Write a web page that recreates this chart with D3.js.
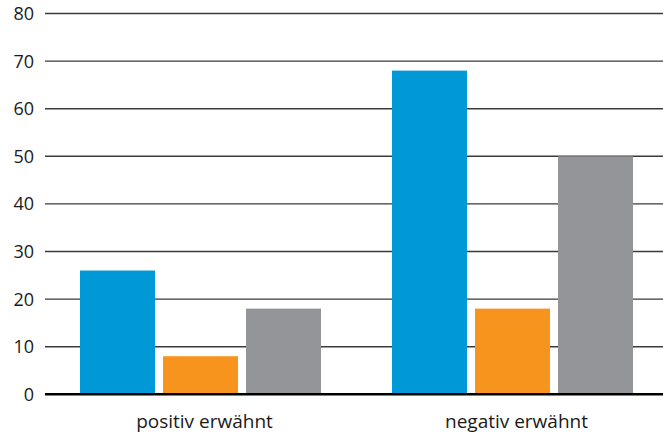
<!DOCTYPE html>
<html>
<head>
<meta charset="utf-8">
<script src="https://cdn.jsdelivr.net/npm/d3@7"></script>
<style>
  html, body { margin: 0; padding: 0; background: #fff; }
  svg { display: block; }
  text { font-family: "Open Sans", sans-serif; fill: #1a1a1a; }
</style>
</head>
<body>
<svg id="chart" width="663" height="436"></svg>
<script>
// Categories and series
const categories = ["positiv erwähnt", "negativ erwähnt"];
const seriesNames = ["A", "B", "C"];
const seriesColors = ["#0098d7", "#f7941d", "#939598"];
const valuesA = [26, 68];
const valuesB = [8, 18];
const valuesC = [18, 50];
const yTicks = [0, 10, 20, 30, 40, 50, 60, 70, 80];

const seriesValues = [valuesA, valuesB, valuesC];

const svg = d3.select("#chart");

const y = d3.scaleLinear().domain([0, 80]).range([394.3, 13.5]);

const x0 = d3.scaleBand()
  .domain(categories)
  .range([44.5, 668.5])
  .paddingInner(0.2276)
  .paddingOuter(0.1138);

const x1 = d3.scaleBand()
  .domain(seriesNames)
  .range([0, x0.bandwidth()])
  .paddingInner(8 / 83)
  .paddingOuter(0);

// Horizontal gridlines
svg.append("g")
  .selectAll("line")
  .data(yTicks.filter(d => d !== 0))
  .join("line")
  .attr("x1", 45)
  .attr("x2", 663)
  .attr("y1", d => y(d))
  .attr("y2", d => y(d))
  .attr("stroke", "#3a3a3a")
  .attr("stroke-width", 1.4);

// Y tick labels
svg.append("g")
  .selectAll("text")
  .data(yTicks)
  .join("text")
  .attr("x", 34)
  .attr("y", d => y(d))
  .attr("dy", "0.36em")
  .attr("text-anchor", "end")
  .attr("font-size", 18)
  .text(d => d);

// Bars
const groups = svg.append("g")
  .selectAll("g")
  .data(categories)
  .join("g")
  .attr("transform", d => `translate(${x0(d)},0)`);

groups.selectAll("rect")
  .data((c, i) => seriesNames.map((s, j) => ({ s, j, v: seriesValues[j][i] })))
  .join("rect")
  .attr("x", d => x1(d.s))
  .attr("width", x1.bandwidth())
  .attr("y", d => y(d.v))
  .attr("height", d => y(0) - y(d.v))
  .attr("fill", d => seriesColors[d.j]);

// Baseline
svg.append("line")
  .attr("x1", 45)
  .attr("x2", 663)
  .attr("y1", y(0))
  .attr("y2", y(0))
  .attr("stroke", "#000")
  .attr("stroke-width", 2.6);

// Category labels
svg.append("g")
  .selectAll("text")
  .data(categories)
  .join("text")
  .attr("x", d => x0(d) + x0.bandwidth() / 2 + 4)
  .attr("y", 428)
  .attr("text-anchor", "middle")
  .attr("font-size", 19)
  .text(d => d);
</script>
</body>
</html>
